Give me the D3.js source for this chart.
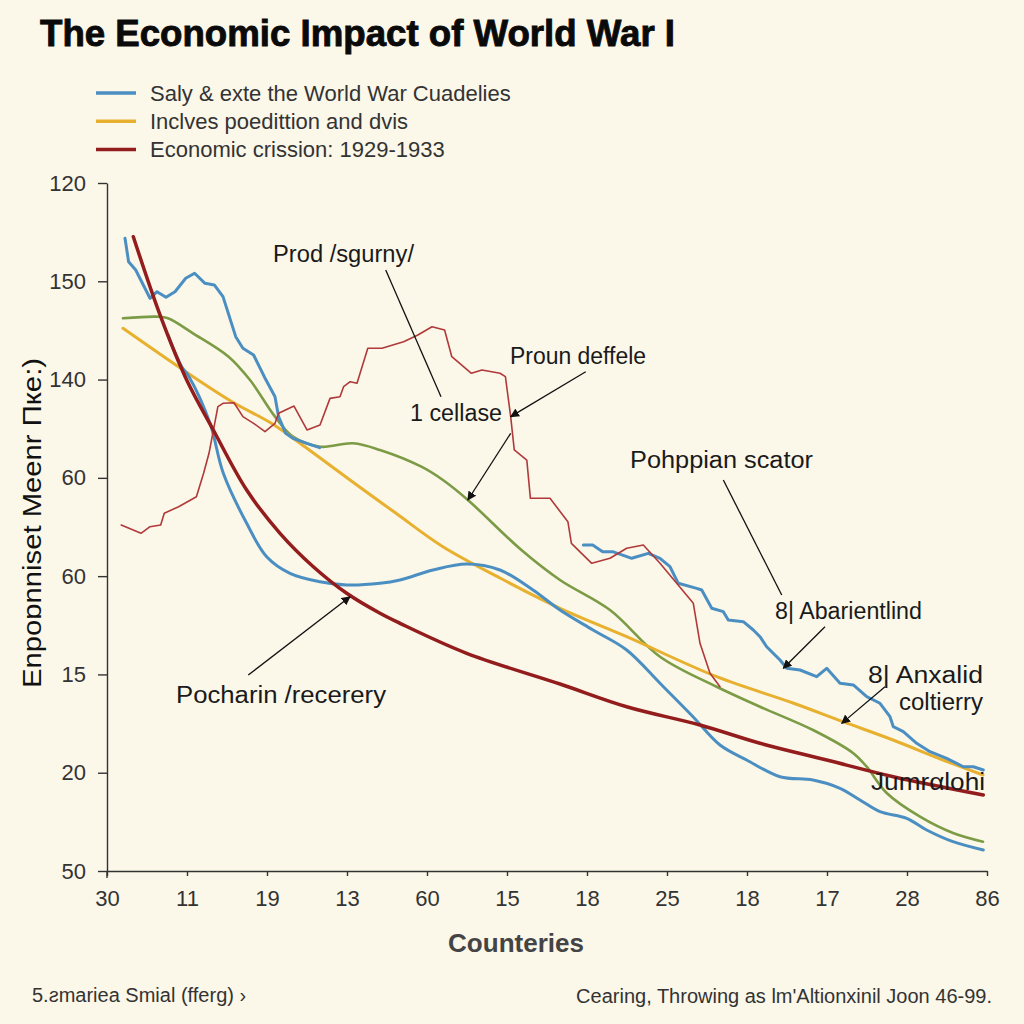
<!DOCTYPE html>
<html>
<head>
<meta charset="utf-8">
<script src="https://cdn.jsdelivr.net/npm/d3@7"></script>
<style>
  html, body { margin: 0; padding: 0; background: #fbf7e9; }
  svg { display: block; font-family: "Liberation Sans", Arial, sans-serif; }
</style>
</head>
<body>
<svg id="chart" width="1024" height="1024"></svg>
<script>
// ---------------- data ----------------
const xTickLabels = ["30", "11", "19", "13", "60", "15", "18", "25", "18", "17", "28", "86"];
const yTickValues = [0, 20, 40, 60, 80, 100, 120, 140];
const yTickLabels = ["50", "20", "15", "60", "60", "140", "150", "120"];

const legendLabels = [
  "Saly & exte the World War Cuadelies",
  "Inclves poedittion and dvis",
  "Economic crission: 1929-1933"
];

// series: [x position on category axis, value]
const blueJagged = [
  [0.225,128.75],[0.27,123.99],[0.359,122.3],[0.5375,116.54],[0.625,117.88],[0.7375,116.74],
  [0.85,117.88],[0.984,120.61],[1.095,121.63],[1.225,119.59],[1.341,119.25],[1.45,116.87],
  [1.609,108.73],[1.699,106.37],[1.8325,105.0],[1.966,100.59],[2.1,96.52],[2.145,92.45],
  [2.234,89.07],[2.324,88.05],[2.5,87.03],[2.6575,86.14],
  null,
  [5.954,66.34],[6.071,66.34],[6.196,64.98],[6.321,64.98],[6.559,63.63],[6.766,64.64],
  [6.9125,63.63],[7.0375,61.92],[7.141,58.54],[7.371,57.52],[7.434,57.18],[7.559,53.46],
  [7.704,52.77],[7.766,51.08],[7.954,50.73],[8.079,49.04],[8.1625,47.68],[8.246,45.64],
  [8.4125,42.94],[8.496,41.25],[8.6625,40.90],[8.871,39.54],[8.996,41.25],[9.1625,38.20],
  [9.329,37.85],[9.496,35.47],[9.6625,34.13],[9.7875,31.40],[9.829,29.36],[9.954,28.35],
  [10.121,25.99],[10.2875,24.28],[10.496,22.93],[10.704,21.22],[10.829,21.22],[10.954,20.55]
];
const blueSmooth = [
  [0.7625,109.07],[0.934,102.62],[1.025,100.59],[1.2875,91.10],[1.454,80.93],[1.746,70.75],
  [1.996,63.96],[2.2875,60.58],[2.6625,58.87],[2.996,58.20],[3.4125,58.54],[3.6625,59.22],
  [4.075,61.25],[4.496,62.47],[4.9125,61.25],[5.325,57.18],[5.6625,53.11],[6.075,49.04],
  [6.496,44.97],[6.9125,38.20],[7.325,31.40],[7.6625,25.64],[7.996,22.59],[8.4125,19.19],
  [8.825,18.52],[9.1625,16.83],[9.4125,14.45],[9.6625,12.07],[9.996,10.72],[10.246,8.34],
  [10.575,5.96],[10.954,4.27]
];
const greenSeries = [
  [0.2,112.47],[0.625,112.80],[0.7625,112.47],[1.075,109.42],[1.52,104.66],[1.7875,99.91],
  [2.1,92.45],[2.324,88.38],[2.6625,86.34],[3.075,87.03],[3.4125,85.67],[3.93,82.27],
  [4.199,79.56],[4.511,75.49],[5.18,65.32],[5.6625,59.22],[6.2875,53.11],[6.9125,43.61],
  [7.621,37.50],[8.1625,33.43],[8.825,28.69],[9.325,24.01],[9.496,21.22],[9.746,15.87],
  [10.1625,11.05],[10.575,7.73],[10.95,5.96]
];
const yellowSeries = [
  [0.2,110.43],[0.984,101.6],[1.5625,95.50],[2.055,91.10],[2.4125,87.03],[3.0375,79.56],
  [3.6125,72.79],[4.199,65.99],[4.9125,59.62],[5.6625,53.46],[6.496,47.68],[7.621,39.54],
  [8.575,34.19],[9.2,30.38],[9.825,26.66],[10.45,22.59],[10.95,19.54]
];
const redThick = [
  [0.329,129.07],[0.671,112.80],[0.996,99.91],[1.329,89.74],[1.746,77.53],[2.1625,68.72],
  [2.579,61.92],[2.996,56.51],[3.4125,52.44],[3.6625,50.40],[4.496,44.30],[5.6625,38.05],
  [6.496,33.43],[7.4125,29.71],[8.1625,25.99],[8.996,22.59],[9.829,19.19],[10.954,15.47]
];
const redThin = [
  [0.1775,70.41],[0.425,68.72],[0.5375,70.06],[0.671,70.41],[0.716,72.79],[0.895,74.13],
  [1.1175,76.17],[1.2075,80.93],[1.275,85.00],[1.386,94.48],[1.45,95.17],[1.5875,95.29],
  [1.699,92.45],[1.8325,91.10],[1.975,89.39],[2.1,91.10],[2.145,93.14],[2.3375,94.62],
  [2.5,89.74],[2.6625,90.76],[2.7875,96.18],[2.9125,96.52],[2.9575,98.56],[3.04,99.57],
  [3.125,99.24],[3.26,106.37],[3.4375,106.37],[3.7075,107.71],[3.886,109.07],[4.0625,110.76],
  [4.22,110.09],[4.31,104.66],[4.555,101.28],[4.6875,101.95],[4.9125,101.28],[4.98,100.59],
  [5.046,92.45],[5.091,85.67],[5.2475,83.63],[5.2925,75.84],[5.5375,75.84],[5.761,71.08],
  [5.805,66.68],[6.059,62.61],[6.2875,63.63],[6.496,65.67],[6.704,66.34],[6.9125,62.61],
  [7.121,58.54],[7.329,54.47],[7.4125,46.33],[7.5375,40.23],[7.6625,37.50]
];

// annotation pointers: [from, to] in data units
const annoLines = [
  { from: [3.484,122.3], to: [4.175,96.52], arrow: false },
  { from: [5.984,101.6], to: [5.046,92.45], arrow: true },
  { from: [5.046,89.07], to: [4.511,75.49], arrow: true },
  { from: [7.704,79.56], to: [8.434,56.16], arrow: false },
  { from: [8.975,49.71], to: [8.454,41.25], arrow: true },
  { from: [9.725,37.50], to: [9.184,30.04], arrow: true },
  { from: [1.766,39.88], to: [3.0375,55.82], arrow: true }
];

// ---------------- drawing ----------------
const svg = d3.select("#chart");
svg.append("rect").attr("width", 1024).attr("height", 1024).attr("fill", "#fbf7e9");

const x = d3.scaleLinear().domain([0, 11]).range([107, 987]);
const y = d3.scaleLinear().domain([0, 140]).range([871, 183]);

const defs = svg.append("defs");
defs.append("marker").attr("id", "arrow")
  .attr("viewBox", "0 0 10 10").attr("refX", 9).attr("refY", 5)
  .attr("markerWidth", 7).attr("markerHeight", 7).attr("orient", "auto")
  .append("path").attr("d", "M0,0 L10,5 L0,10 Z").attr("fill", "#111");

// title
svg.append("text").attr("x", 40).attr("y", 46)
  .attr("font-size", 37).attr("font-weight", "bold").attr("fill", "#0a0a0a")
  .attr("stroke", "#0a0a0a").attr("stroke-width", 0.9)
  .attr("textLength", 635).attr("lengthAdjust", "spacingAndGlyphs")
  .text("The Economic Impact of World War I");

// legend
const legendColors = ["#4b8fc2", "#e8b02f", "#931c1c"];
const lg = svg.append("g");
legendLabels.forEach((t, i) => {
  const ly = 93 + i * 28.2;
  lg.append("line").attr("x1", 96).attr("x2", 136).attr("y1", ly).attr("y2", ly)
    .attr("stroke", legendColors[i]).attr("stroke-width", 3.5);
  lg.append("text").attr("x", 150).attr("y", ly + 7.5).attr("font-size", 22)
    .attr("fill", "#333").text(t);
});

// axes
const xAxis = d3.axisBottom(x).tickValues(d3.range(0, 12))
  .tickFormat(i => xTickLabels[i]).tickSize(5).tickSizeOuter(0).tickPadding(14);
const gx = svg.append("g").attr("transform", "translate(0,871)").call(xAxis);
gx.selectAll("text").attr("font-size", 22).attr("fill", "#333")
  .attr("font-family", "Liberation Sans, Arial, sans-serif");
gx.selectAll("line, path").attr("stroke", "#333").attr("stroke-width", 1.4);

const yAxis = d3.axisLeft(y).tickValues(yTickValues)
  .tickFormat((d, i) => yTickLabels[i]).tickSize(9).tickSizeOuter(0).tickPadding(12);
const gy = svg.append("g").attr("transform", "translate(107,0)").call(yAxis);
gy.selectAll("text").attr("font-size", 22).attr("fill", "#333")
  .attr("font-family", "Liberation Sans, Arial, sans-serif");
gy.selectAll("line, path").attr("stroke", "#333").attr("stroke-width", 1.4);
gy.append("line").attr("x1", 0).attr("x2", 0).attr("y1", 871).attr("y2", 878)
  .attr("stroke", "#333").attr("stroke-width", 1.4);

// axis titles
svg.append("text").attr("transform", "translate(41,523) rotate(-90)")
  .attr("text-anchor", "middle").attr("font-size", 26).attr("fill", "#111")
  .attr("textLength", 330).attr("lengthAdjust", "spacingAndGlyphs")
  .text("Enpoɒnniset Meenr Пке:)");
svg.append("text").attr("x", 516).attr("y", 952).attr("text-anchor", "middle")
  .attr("font-size", 26).attr("font-weight", "bold").attr("fill", "#444")
  .text("Counteries");

// lines
const smooth = d3.line().defined(d => d !== null)
  .x(d => x(d[0])).y(d => y(d[1])).curve(d3.curveCatmullRom.alpha(0.5));
const jag = d3.line().defined(d => d !== null)
  .x(d => x(d[0])).y(d => y(d[1])).curve(d3.curveLinear);

const plot = svg.append("g").attr("fill", "none")
  .attr("stroke-linejoin", "round").attr("stroke-linecap", "round");
plot.append("path").attr("d", smooth(greenSeries)).attr("stroke", "#7b9b45").attr("stroke-width", 2.6);
plot.append("path").attr("d", smooth(yellowSeries)).attr("stroke", "#e8b02f").attr("stroke-width", 3);
plot.append("path").attr("d", smooth(blueSmooth)).attr("stroke", "#4b8fc2").attr("stroke-width", 3);
plot.append("path").attr("d", jag(blueJagged)).attr("stroke", "#4b8fc2").attr("stroke-width", 3);
plot.append("path").attr("d", jag(redThin)).attr("stroke", "#b0393a").attr("stroke-width", 1.6);
plot.append("path").attr("d", smooth(redThick)).attr("stroke", "#931c1c").attr("stroke-width", 3.5);

// annotation pointers
const ag = svg.append("g");
annoLines.forEach(a => {
  const l = ag.append("line")
    .attr("x1", x(a.from[0])).attr("y1", y(a.from[1]))
    .attr("x2", x(a.to[0])).attr("y2", y(a.to[1]))
    .attr("stroke", "#111").attr("stroke-width", 1.3);
  if (a.arrow) l.attr("marker-end", "url(#arrow)");
});

// annotation texts
const annoTexts = [
  { t: "Prod /sgurny/", x: 273, y: 262, a: "start", w: 141 },
  { t: "1 cellase", x: 410, y: 421, a: "start", w: 92 },
  { t: "Proun deffele", x: 510, y: 364, a: "start", w: 136 },
  { t: "Pohppian scator", x: 630, y: 468, a: "start", w: 183 },
  { t: "8| Abarientlind", x: 775, y: 619, a: "start", w: 147 },
  { t: "8| Anxalid", x: 983, y: 683, a: "end", w: 115 },
  { t: "coltierry", x: 983, y: 710, a: "end", w: 84 },
  { t: "Jumrαlohi", x: 871, y: 790, a: "start", w: 114 },
  { t: "Pocharin /recerery", x: 176, y: 703, a: "start", w: 210 }
];
annoTexts.forEach(d => {
  svg.append("text").attr("x", d.x).attr("y", d.y).attr("text-anchor", d.a)
    .attr("font-size", 23.5).attr("fill", "#1a1a1a")
    .attr("textLength", d.w).attr("lengthAdjust", "spacingAndGlyphs").text(d.t);
});

// footer
svg.append("text").attr("x", 32).attr("y", 1002).attr("font-size", 20)
  .attr("fill", "#333").text("5.ƨmariea Smial (fferg) ›");
svg.append("text").attr("x", 992).attr("y", 1003).attr("text-anchor", "end")
  .attr("font-size", 20).attr("fill", "#333")
  .text("Cearing, Throwing as lm'Altionxinil Joon 46-99.");
</script>
</body>
</html>
